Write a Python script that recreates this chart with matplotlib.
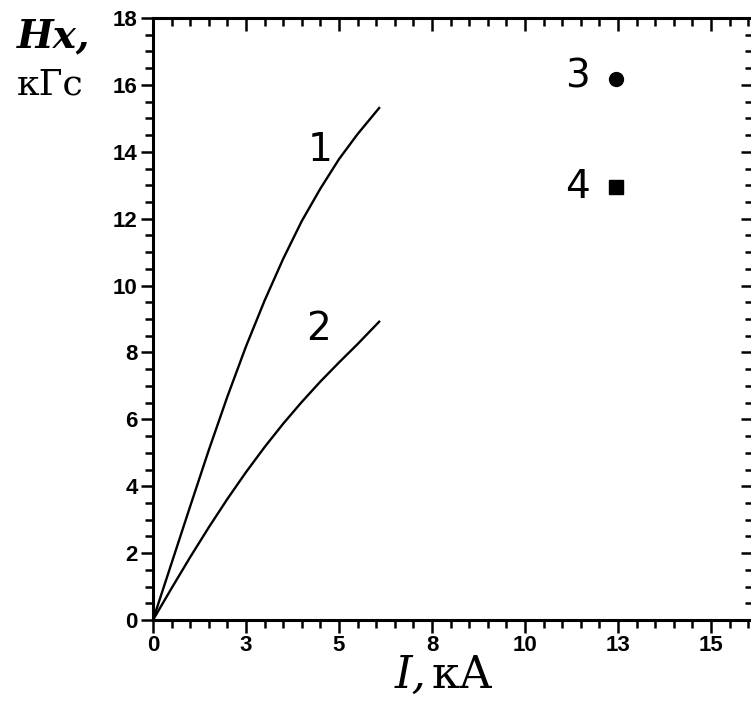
import matplotlib.pyplot as plt
from matplotlib.ticker import MultipleLocator, FixedLocator, FixedFormatter

# Curves: field Hx (kGs) vs current I (kA)
curve1_I = [0, 0.5, 1.0, 1.5, 2.0, 2.5, 3.0, 3.5, 4.0, 4.5, 5.0, 5.5, 6.08]
curve1_H = [0, 1.7, 3.4, 5.08, 6.68, 8.18, 9.55, 10.8, 11.93, 12.9, 13.78, 14.53, 15.31]
curve2_I = [0, 0.5, 1.0, 1.5, 2.0, 2.5, 3.0, 3.5, 4.0, 4.5, 5.0, 5.5, 6.08]
curve2_H = [0, 0.95, 1.88, 2.77, 3.62, 4.42, 5.17, 5.87, 6.52, 7.13, 7.7, 8.25, 8.92]

# Single measured points
point3 = (12.45, 16.18)
point4 = (12.45, 12.96)

x_ticks = [0, 2.5, 5, 7.5, 10, 12.5, 15]
x_labels = ['0', '3', '5', '8', '10', '13', '15']
y_ticks = [0, 2, 4, 6, 8, 10, 12, 14, 16, 18]

fig = plt.figure(figsize=(7.51, 7.02), dpi=100)
ax = fig.add_axes([0.2037, 0.1168, 0.799, 0.8575])

ax.plot(curve1_I, curve1_H, color='black', lw=1.7, solid_joinstyle='round')
ax.plot(curve2_I, curve2_H, color='black', lw=1.7, solid_joinstyle='round')
ax.plot(*point3, 'o', color='black', ms=10)
ax.plot(*point4, 's', color='black', ms=9.5)

ax.text(4.5, 14.05, '1', fontsize=28, ha='center', va='center')
ax.text(4.46, 8.7, '2', fontsize=28, ha='center', va='center')
ax.text(11.42, 16.25, '3', fontsize=28, ha='center', va='center')
ax.text(11.42, 12.96, '4', fontsize=28, ha='center', va='center')

ax.set_xlim(0, 16.13)
ax.set_ylim(0, 18)

ax.xaxis.set_major_locator(FixedLocator(x_ticks))
ax.xaxis.set_major_formatter(FixedFormatter(x_labels))
ax.xaxis.set_minor_locator(MultipleLocator(0.5))
ax.yaxis.set_major_locator(FixedLocator(y_ticks))
ax.yaxis.set_minor_locator(MultipleLocator(0.5))

for s in ax.spines.values():
    s.set_linewidth(2.2)

ax.tick_params(axis='both', which='both', width=1.8, labelsize=16, pad=2)
ax.tick_params(axis='both', which='major', length=9, direction='out',
               top=True, right=True)
ax.tick_params(axis='both', which='minor', length=6, direction='out',
               top=True, right=True)
for lab in ax.get_xticklabels() + ax.get_yticklabels():
    lab.set_family('Liberation Sans')
    lab.set_fontweight('bold')
# top and right ticks point into the plot
for t in ax.xaxis.get_major_ticks() + ax.xaxis.get_minor_ticks():
    t.tick2line.set_marker(3)
for t in ax.yaxis.get_major_ticks() + ax.yaxis.get_minor_ticks():
    t.tick2line.set_marker(0)

fig.text(0.022, 0.932, 'Hx,', fontsize=28, family='DejaVu Serif',
         fontweight='bold', style='italic', va='baseline')
fig.text(0.022, 0.865, 'кГс', fontsize=26, family='DejaVu Serif', va='baseline')
fig.text(0.575, 0.02, 'кА', fontsize=32, family='DejaVu Serif', ha='left',
         va='baseline')
fig.text(0.568, 0.02, 'I,', fontsize=32, family='DejaVu Serif', style='italic',
         ha='right', va='baseline')

fig.savefig('out.png', dpi=100)
